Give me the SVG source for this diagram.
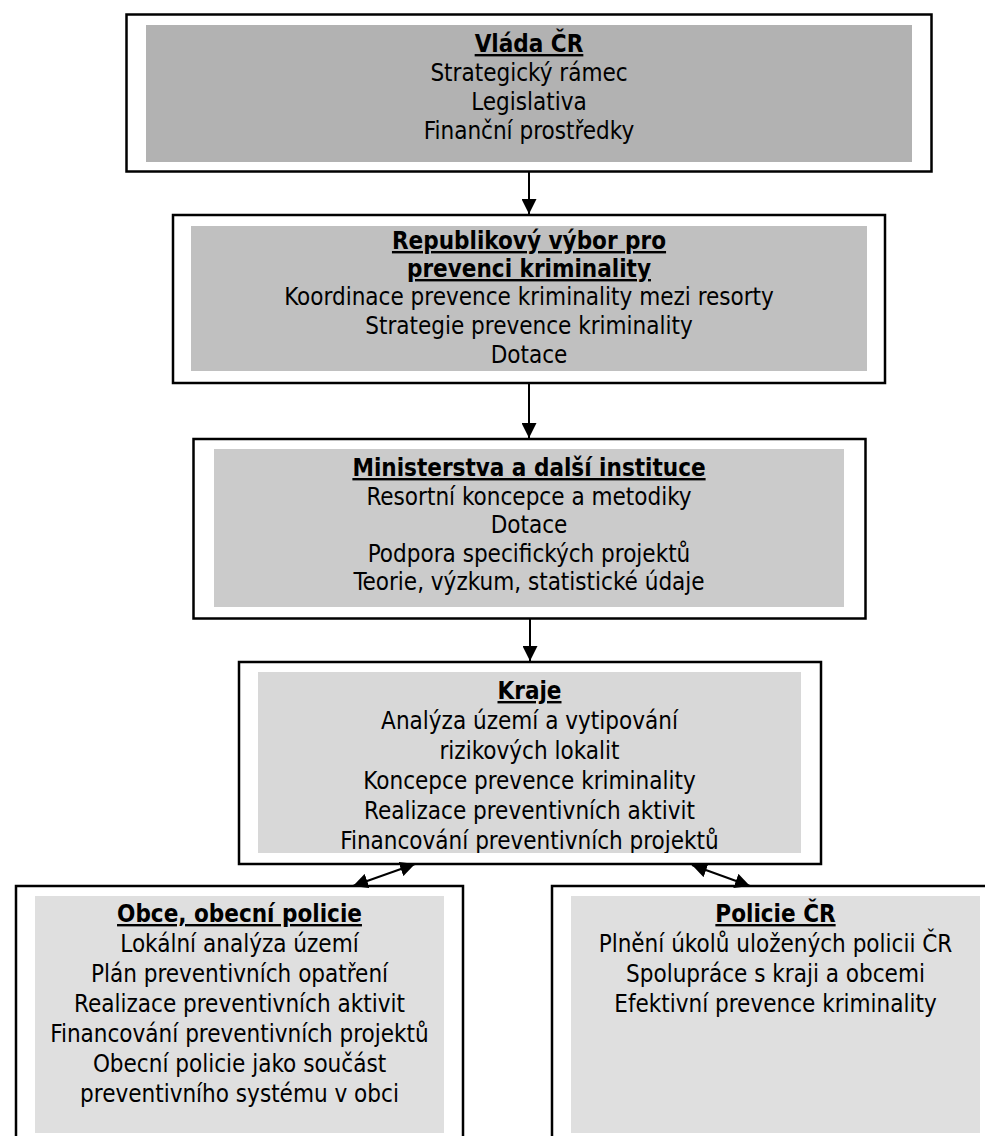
<svg xmlns="http://www.w3.org/2000/svg" width="985" height="1136" viewBox="0 0 985 1136">
<defs>
<style>
.outer{fill:#fff;stroke:#000;stroke-width:2.5}
.t{font-family:"DejaVu Sans Condensed","DejaVu Sans",sans-serif;font-stretch:condensed;font-size:24px;fill:#000;text-anchor:middle}
.h{font-weight:bold;text-decoration:underline}
.conn{stroke:#000;stroke-width:2;fill:none}
</style>
<marker id="ah" viewBox="0 0 10 10" refX="10" refY="5" markerWidth="7.5" markerHeight="7.5" markerUnits="strokeWidth" orient="auto-start-reverse">
<path d="M0,0 L10,5 L0,10 z" fill="#000"/>
</marker>
<clipPath id="kclip"><rect x="258" y="672" width="543" height="181"/></clipPath>
</defs>
<rect width="985" height="1136" fill="#fff"/>

<g id="vlada">
<rect class="outer" x="126.5" y="14.5" width="805" height="157"/>
<rect x="146" y="25" width="766" height="137" fill="#b2b2b2"/>
<text class="t h" x="529" y="52">Vláda ČR</text>
<text class="t" x="529" y="81">Strategický rámec</text>
<text class="t" x="529" y="110">Legislativa</text>
<text class="t" x="529" y="139">Finanční prostředky</text>
</g>

<g id="vybor">
<rect class="outer" x="173" y="215" width="712" height="168"/>
<rect x="191" y="226" width="676" height="145" fill="#c0c0c0"/>
<text class="t h" x="529" y="249">Republikový výbor pro</text>
<text class="t h" x="529" y="277">prevenci kriminality</text>
<text class="t" x="529" y="305">Koordinace prevence kriminality mezi resorty</text>
<text class="t" x="529" y="334">Strategie prevence kriminality</text>
<text class="t" x="529" y="363">Dotace</text>
</g>

<g id="ministerstva">
<rect class="outer" x="193.5" y="439" width="672" height="179.5"/>
<rect x="214" y="449" width="630" height="158" fill="#cbcbcb"/>
<text class="t h" x="529" y="476">Ministerstva a další instituce</text>
<text class="t" x="529" y="504.5">Resortní koncepce a metodiky</text>
<text class="t" x="529" y="533">Dotace</text>
<text class="t" x="529" y="561.5">Podpora specifických projektů</text>
<text class="t" x="529" y="590">Teorie, výzkum, statistické údaje</text>
</g>

<g id="kraje">
<rect class="outer" x="239" y="662" width="582" height="202"/>
<rect x="258" y="672" width="543" height="181" fill="#d8d8d8"/>
<g clip-path="url(#kclip)">
<text class="t h" x="529.5" y="699">Kraje</text>
<text class="t" x="529.5" y="729">Analýza území a vytipování</text>
<text class="t" x="529.5" y="759">rizikových lokalit</text>
<text class="t" x="529.5" y="789">Koncepce prevence kriminality</text>
<text class="t" x="529.5" y="819">Realizace preventivních aktivit</text>
<text class="t" x="529.5" y="849">Financování preventivních projektů</text>
</g>
</g>

<g id="obce">
<rect class="outer" x="16" y="886" width="447" height="260"/>
<rect x="35" y="896" width="409" height="237" fill="#dfdfdf"/>
<text class="t h" x="239.5" y="922">Obce, obecní policie</text>
<text class="t" x="239.5" y="952">Lokální analýza území</text>
<text class="t" x="239.5" y="982">Plán preventivních opatření</text>
<text class="t" x="239.5" y="1012">Realizace preventivních aktivit</text>
<text class="t" x="239.5" y="1042">Financování preventivních projektů</text>
<text class="t" x="239.5" y="1072">Obecní policie jako součást</text>
<text class="t" x="239.5" y="1102">preventivního systému v obci</text>
</g>

<g id="policie">
<rect class="outer" x="552" y="886" width="445" height="260"/>
<rect x="571" y="896" width="409" height="237" fill="#dfdfdf"/>
<text class="t h" x="775.5" y="922">Policie ČR</text>
<text class="t" x="775.5" y="952">Plnění úkolů uložených policii ČR</text>
<text class="t" x="775.5" y="982">Spolupráce s kraji a obcemi</text>
<text class="t" x="775.5" y="1012">Efektivní prevence kriminality</text>
</g>

<g id="connectors">
<line class="conn" x1="529" y1="172" x2="529" y2="214" marker-end="url(#ah)"/>
<line class="conn" x1="529" y1="383" x2="529" y2="438" marker-end="url(#ah)"/>
<line class="conn" x1="530" y1="619" x2="530" y2="661" marker-end="url(#ah)"/>
<line class="conn" x1="353" y1="886" x2="415" y2="864" marker-start="url(#ah)" marker-end="url(#ah)"/>
<line class="conn" x1="692" y1="865" x2="750" y2="886" marker-start="url(#ah)" marker-end="url(#ah)"/>
</g>
</svg>
